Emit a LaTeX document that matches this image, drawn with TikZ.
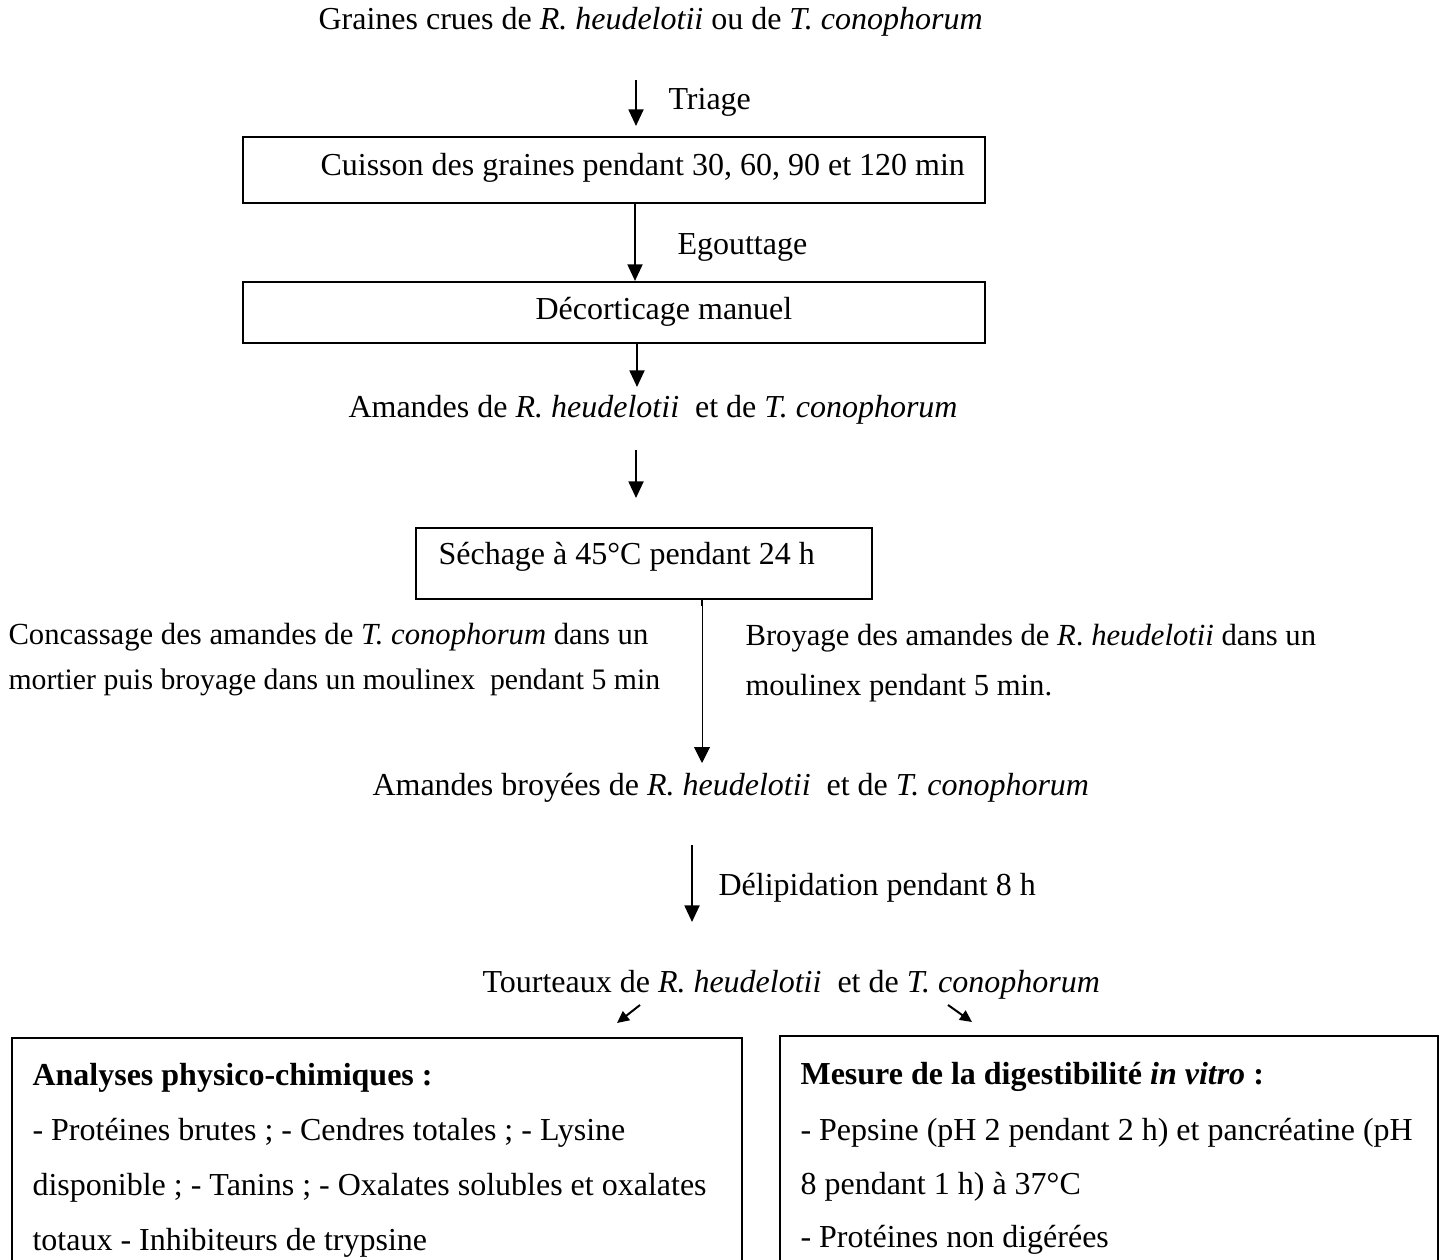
\documentclass[tikz,border=0pt]{standalone}
\usepackage{fontspec}
\setmainfont{Liberation Serif}
\usetikzlibrary{arrows.meta}
\newcommand{\pxu}{0.375pt}
\tikzset{
  stepbox/.style={draw, line width=0.8pt, inner sep=0pt},
  flow/.style={-{Triangle[length=6.2pt,width=5.6pt]}, line width=0.75pt},
  thinflow/.style={-{Triangle[length=6pt,width=6pt]}, line width=0.35pt},
  smallflow/.style={-{Triangle[length=4.5pt,width=4.2pt]}, line width=0.75pt},
  sidetext/.style={anchor=west, font=\fontsize{11.5pt}{14pt}\selectfont},
}

\begin{document}
\begin{tikzpicture}[x=\pxu, y=-\pxu, every node/.style={font=\fontsize{12pt}{14pt}\selectfont, inner sep=0pt}]
    \useasboundingbox (0,0) rectangle (1443,1260);
    \clip (0,0) rectangle (1443,1260);

    % boxes
    \node [stepbox, minimum width=742*\pxu, minimum height=66*\pxu] (cuisson) at (614,170) {};
    \node [stepbox, minimum width=742*\pxu, minimum height=61*\pxu] (decort) at (614,312.5) {};
    \node [stepbox, minimum width=456*\pxu, minimum height=71*\pxu] (sechage) at (644,563.5) {};
    \node [stepbox, minimum width=730*\pxu, minimum height=252*\pxu] (analyses) at (377,1164) {};
    \node [stepbox, minimum width=658*\pxu, minimum height=254*\pxu] (mesure) at (1109,1163) {};

    % texts
    \node [anchor=west] (graines) at (318,22) {Graines crues de \textit{R. heudelotii} ou de \textit{T. conophorum}};
    \node [anchor=west] (triage) at (668,102) {Triage};
    \node [anchor=west] (tcuisson) at (320,168) {Cuisson des graines pendant 30, 60, 90 et 120 min};
    \node [anchor=west] (egout) at (677,247) {Egouttage};
    \node [anchor=west] (tdecort) at (535,312) {Décorticage manuel};
    \node [anchor=west] (amandes) at (348,410) {Amandes de \textit{R. heudelotii}~ et de \textit{T. conophorum}};
    \node [anchor=west] (tsechage) at (438,557) {Séchage à 45°C pendant 24 h};
    \node [sidetext] (conc1) at (8,637) {Concassage des amandes de \textit{T. conophorum} dans un};
    \node [sidetext, font=\fontsize{11.15pt}{14pt}\selectfont] (conc2) at (8,682) {mortier puis broyage dans un moulinex~ pendant 5 min};
    \node [sidetext] (broy1) at (745,638) {Broyage des amandes de \textit{R}. \textit{heudelotii} dans un};
    \node [sidetext] (broy2) at (745,688) {moulinex pendant 5 min.};
    \node [anchor=west] (broyees) at (372,788) {Amandes broyées de \textit{R. heudelotii}~ et de \textit{T. conophorum}};
    \node [anchor=west] (delip) at (718,888) {Délipidation pendant 8 h};
    \node [anchor=west] (tourt) at (482,985) {Tourteaux de \textit{R. heudelotii}~ et de \textit{T. conophorum}};

    \node [anchor=west] (an0) at (32,1078) {\textbf{Analyses physico-chimiques :}};
    \node [anchor=west] (an1) at (32,1133) {- Protéines brutes ; - Cendres totales ; - Lysine};
    \node [anchor=west] (an2) at (32,1188) {disponible ; - Tanins ; - Oxalates solubles et oxalates};
    \node [anchor=west] (an3) at (32,1243) {totaux - Inhibiteurs de trypsine};

    \node [anchor=west] (me0) at (800,1077) {\textbf{Mesure de la digestibilité \textit{in vitro} :}};
    \node [anchor=west] (me1) at (800,1133) {- Pepsine (pH 2 pendant 2 h) et pancréatine (pH};
    \node [anchor=west] (me2) at (800,1187) {8 pendant 1 h) à 37°C};
    \node [anchor=west] (me3) at (800,1240) {- Protéines non digérées};

    % arrows
    \coordinate (a1s) at (636,80);
    \coordinate (a1e) at (636,126);
    \coordinate (c2) at (635,0);
    \coordinate (c3) at (637,0);
    \coordinate (a3e) at (637,387);
    \coordinate (a4s) at (636,450);
    \coordinate (a4e) at (636,498);
    \coordinate (c5) at (702,0);
    \coordinate (a5e) at (702,763);
    \coordinate (a6s) at (692,845);
    \coordinate (a6e) at (692,922);
    \coordinate (dls) at (640,1005);
    \coordinate (dle) at (617,1023);
    \coordinate (drs) at (948,1005);
    \coordinate (dre) at (972,1022);

    \draw [flow] (a1s) -- (a1e);
    \draw [flow] (cuisson.south -| c2) -- (decort.north -| c2);
    \draw [flow] (decort.south -| c3) -- (a3e);
    \draw [flow] (a4s) -- (a4e);
    \draw [thinflow] (sechage.south -| c5) -- (a5e);
    \draw [line width=0.8pt] (sechage.south -| c5) -- ++(0,6);
    \draw [flow] (a6s) -- (a6e);
    \draw [smallflow] (dls) -- (dle);
    \draw [smallflow] (drs) -- (dre);
\end{tikzpicture}
\end{document}
